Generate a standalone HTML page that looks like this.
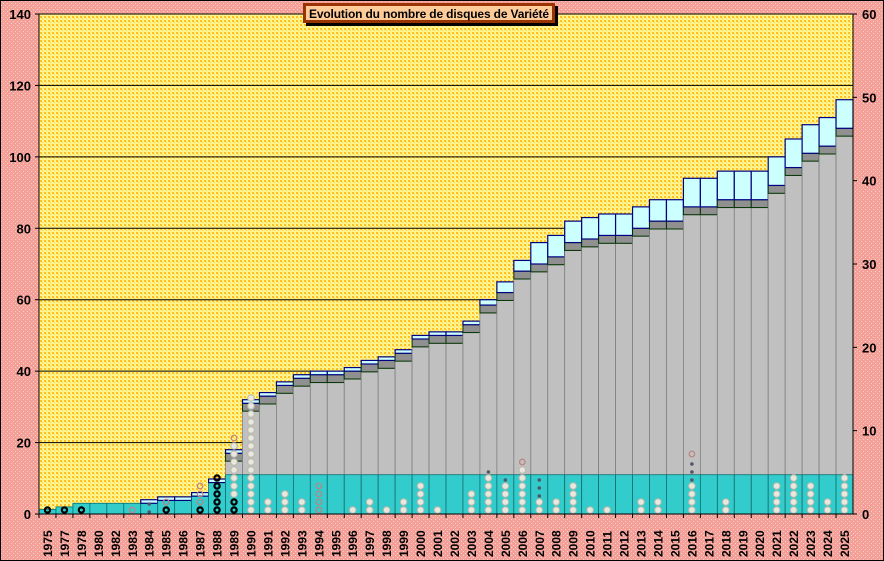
<!DOCTYPE html>
<html><head><meta charset="utf-8"><style>
html,body{margin:0;padding:0;background:#fff}
#c{position:relative;width:884px;height:561px;overflow:hidden}
svg{display:block}
</style></head><body><div id="c">
<svg id="s" width="884" height="561" xmlns="http://www.w3.org/2000/svg" font-family="Liberation Sans, sans-serif">
<defs>
<pattern id="pk" width="4" height="4" patternUnits="userSpaceOnUse"><rect width="4" height="4" fill="#F4A098"/><rect x="1" y="1" width="1" height="1" fill="#FCD0C8"/><rect x="3" y="3" width="1" height="1" fill="#FCD0C8"/></pattern>
<pattern id="yl" width="4" height="4" patternUnits="userSpaceOnUse"><rect width="4" height="4" fill="#FFF590"/><rect x="0" y="0" width="2" height="2" fill="#FFC020"/><rect x="2" y="2" width="1" height="1" fill="#FFD040"/></pattern>
</defs>
<rect x="0" y="0" width="884" height="561" fill="url(#pk)"/>
<rect x="0.5" y="0.5" width="883" height="560" fill="none" stroke="#000"/>
<rect x="39" y="14" width="814" height="500" fill="url(#yl)"/>
<g id="grid"></g>
<g id="bars"></g>
<g id="marks"></g>
<g id="axes"></g>
<rect x="306" y="6" width="252" height="20" fill="#000"/>
<rect x="303" y="3" width="252" height="20" fill="#993300"/>
<rect x="306" y="6" width="246" height="14" fill="#FFCC99"/>
<text x="429" y="18" text-anchor="middle" font-size="12" font-weight="bold" fill="#000" textLength="240" lengthAdjust="spacing">Evolution  du  nombre de disques de Variété</text>
</svg>
<script>
var NS="http://www.w3.org/2000/svg";
function el(p,t,a,txt){var e=document.createElementNS(NS,t);for(var k in a)e.setAttribute(k,a[k]);if(txt!=null)e.textContent=txt;document.getElementById(p).appendChild(e);return e;}
var X0=39,X1=853,Y0=514,K=500/140;
function Y(v){return Y0-v*K;}
var yrs=["1975","1977","1978","1980","1982","1983","1984","1985","1986","1987","1988","1989"];
for(var y=1990;y<=2025;y++)yrs.push(""+y);
var N=yrs.length,W=(X1-X0)/N;
var tot=[1.3,2,3,3,3,3,4,4.8,4.8,6,9.8,18,32,34,37,39,40,40,41,43,44,46,50,51,51,54,60,65,71,76,78,82,83,84,84,86,88,88,94,94,96,96,96,100,105,109,111,116];
for(var i=0;i<N;i++){
 var T=tot[i],x=X0+i*W;
 var cy,dk;
 if(T<=3){cy=T;dk=T;}
 else if(T<12){cy=T-1;dk=cy;}
 else if(T<58){cy=T-1;dk=cy-2.2;}
 else{cy=[58.5,62,68,70,72,76,77,78,78,80,82,82,86,86,88,88,88,92,97,101,103,108][i-26];dk=cy-2.2;}
 if(i<11){
   el("bars","rect",{x:x,y:Y(cy),width:W,height:Y0-Y(cy),fill:"#33CCCC",stroke:"#0A7070","stroke-width":0.8});
 } else {
   el("bars","rect",{x:x,y:Y(dk),width:W,height:Y0-Y(dk),fill:"#C0C0C0",stroke:"#808080","stroke-width":0.8});
   el("bars","rect",{x:x,y:Y(Math.min(11,dk)),width:W,height:Y0-Y(Math.min(11,dk)),fill:"#33CCCC",stroke:"#0A7070","stroke-width":0.8});
   el("bars","rect",{x:x,y:Y(cy),width:W,height:Y(dk)-Y(cy),fill:"#909090",stroke:"#003300","stroke-width":1});
 }
 if(T>cy+0.01) el("bars","rect",{x:x,y:Y(T),width:W,height:Y(cy)-Y(T),fill:"#CCFFFF",stroke:"#000080","stroke-width":1.2});
 var lx=x+W/2+4.5;
 el("axes","text",{x:0,y:0,transform:"translate("+lx+",557) rotate(-90)","font-size":"12","font-weight":"bold"},yrs[i]);
 el("axes","line",{x1:x,y1:514,x2:x,y2:518,stroke:"#000"});
}
for(var v=20;v<=140;v+=20){el("grid","line",{x1:X0,y1:Y(v),x2:X1,y2:Y(v),stroke:"#000","stroke-width":1});}
for(var v=0;v<=140;v+=20){el("axes","text",{x:31,y:Y(v)+5,"text-anchor":"end","font-size":"13","font-weight":"bold"},""+v);el("axes","line",{x1:35,y1:Y(v),x2:39,y2:Y(v),stroke:"#000"});}
for(var v=0;v<=60;v+=10){var yy=Y0-v*500/60;el("axes","text",{x:862,y:yy+5,"font-size":"13","font-weight":"bold"},""+v);el("axes","line",{x1:853,y1:yy,x2:857,y2:yy,stroke:"#000"});}
el("axes","line",{x1:X0,y1:14,x2:X0,y2:514,stroke:"#000"});
el("axes","line",{x1:X1,y1:14,x2:X1,y2:514,stroke:"#000"});
el("axes","line",{x1:X0,y1:514,x2:X1,y2:514,stroke:"#000"});
var M={"1975":[1,0,0,0],"1977":[1,0,0,0],"1978":[1,0,0,0],"1983":[0,0,1,0],"1984":[0,0,0,2],"1985":[1,0,1,0],"1987":[1,0,3,0],"1988":[5,0,0,0],"1989":[2,7,1,0],"1990":[0,15,0,0],"1991":[0,2,0,0],"1992":[0,3,0,0],"1993":[0,2,0,0],"1994":[0,0,4,0],"1996":[0,1,0,0],"1997":[0,2,0,0],"1998":[0,1,0,0],"1999":[0,2,0,0],"2000":[0,4,0,0],"2001":[0,1,0,0],"2003":[0,3,0,0],"2004":[0,5,0,1],"2005":[0,4,0,1],"2006":[0,6,1,0],"2007":[0,2,0,3],"2008":[0,2,0,0],"2009":[0,4,0,0],"2010":[0,1,0,0],"2011":[0,1,0,0],"2013":[0,2,0,0],"2014":[0,2,0,0],"2016":[0,4,1,3],"2018":[0,2,0,0],"2021":[0,4,0,0],"2022":[0,5,0,0],"2023":[0,4,0,0],"2024":[0,2,0,0],"2025":[0,5,0,0]};
for(var i=0;i<N;i++){var m=M[yrs[i]];if(!m)continue;var cx=X0+i*W+W/2,cy=510;
 for(var j=0;j<m[0];j++){el("marks","circle",{cx:cx,cy:cy,r:2.6,fill:"none",stroke:"#000","stroke-width":2.2});cy-=8;}
 for(var j=0;j<m[1];j++){el("marks","circle",{cx:cx,cy:cy,r:3.3,fill:"#E8E8E0",stroke:"#B8B8A8","stroke-width":1});cy-=8;}
 for(var j=0;j<m[3];j++){el("marks","circle",{cx:cx,cy:cy+2,r:1.8,fill:"#556",stroke:"none"});cy-=8;}
 for(var j=0;j<m[2];j++){el("marks","circle",{cx:cx,cy:cy,r:2.8,fill:"none",stroke:"#C08080","stroke-width":1.2});cy-=8;}
}
</script>
</div></body></html>
